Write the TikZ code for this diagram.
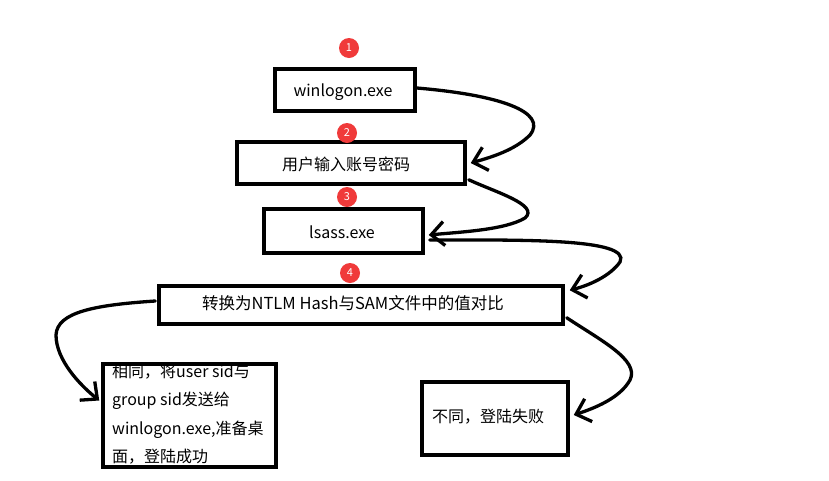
\documentclass[tikz,border=0pt]{standalone}
\usepackage{fontspec}
\setmainfont{Noto Sans CJK SC}
\usetikzlibrary{arrows.meta}
\definecolor{badgered}{HTML}{F03A3A}
\tikzset{
  box/.style={draw=black, line width=3.5pt, inner sep=0pt},
  badge/.style={circle, fill=badgered, text=white, minimum size=20pt, inner sep=0pt, font=\fontsize{11}{11}\selectfont},
  label/.style={font=\fontsize{16}{18}\selectfont, inner sep=0pt},
  conn/.style={line width=3.3pt, line cap=round, -{Straight Barb[length=13pt, width=24pt, line width=3.3pt]}}
}
\begin{document}
\begin{tikzpicture}[x=1pt, y=-1pt]
\useasboundingbox[fill=white] (0,0) rectangle (829,480);
% texts
\node[label] (t1) at (343,92) {winlogon.exe};
\node[label] (t2) at (346,164) {用户输入账号密码};
\node[label] (t3) at (342,232) {lsass.exe};
\node[label, font=\fontsize{16.5}{18}\selectfont] (t4) at (353,303) {转换为NTLM Hash与SAM文件中的值对比};
\node[label, anchor=north west, align=left, font=\fontsize{16}{28.3}\selectfont] (t5) at (112,364)
  {相同，将user sid与\\group sid发送给\\winlogon.exe,准备桌\\面，登陆成功};
\node[label, anchor=west] (t6) at (432,417) {不同，登陆失败};
% boxes
\node[box, minimum width=140pt, minimum height=42pt] (b1) at (345,90) {};
\node[box, minimum width=228pt, minimum height=42pt] (b2) at (351,163) {};
\node[box, minimum width=159pt, minimum height=44pt] (b3) at (343.5,231) {};
\node[box, minimum width=404pt, minimum height=38pt] (b4) at (361,305) {};
\node[box, minimum width=173pt, minimum height=103pt] (b5) at (189.5,415.5) {};
\node[box, minimum width=146pt, minimum height=73pt] (b6) at (495,418.5) {};
% badges
\node[badge] (n1) at (349,48) {1};
\node[badge] (n2) at (347,133) {2};
\node[badge] (n3) at (347,197) {3};
\node[badge] (n4) at (350,273) {4};
% connectors
\draw[conn] ([yshift=2pt]b1.east) .. controls (500,95) and (548,112) .. (530,135)
  .. controls (515,150) and (492,157) .. ([xshift=4pt]b2.east);
\draw[conn] ([shift={(2pt,6pt)}]b2.south east) .. controls (495,192) and (540,205) .. (525,218)
  .. controls (505,230) and (460,232) .. ([shift={(4pt,-4pt)}]b3.east);
\draw[conn] ([shift={(5pt,-9pt)}]b3.east) .. controls (520,240) and (632,238) .. (620,262)
  .. controls (610,276) and (590,285) .. ([shift={(5pt,-6pt)}]b4.north east);
\draw[conn] ([shift={(2pt,8pt)}]b4.south east) .. controls (600,340) and (640,360) .. (630,380)
  .. controls (620,398) and (595,408) .. ([shift={(4pt,3.5pt)}]b6.east);
\draw[conn] ([shift={(-2pt,4pt)}]b4.west) .. controls (95,305) and (57,312) .. (56,335)
  .. controls (56,360) and (80,385) .. ([shift={(-2pt,15pt)}]b5.west);
\end{tikzpicture}
\end{document}
